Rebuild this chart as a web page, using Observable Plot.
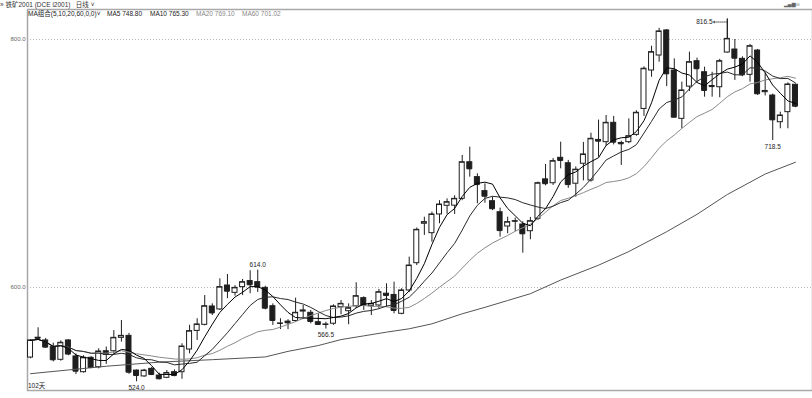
<!DOCTYPE html>
<html><head><meta charset="utf-8">
<script src="https://cdn.jsdelivr.net/npm/d3@7"></script>
<script src="https://cdn.jsdelivr.net/npm/@observablehq/plot@0.6"></script>
<style>
body{margin:0;background:#fff;font-family:"Liberation Sans",Arial,"Noto Sans CJK SC",sans-serif;}
#wrap{position:relative;width:812px;height:398px;overflow:hidden;}
.t{position:absolute;white-space:nowrap;font-size:6.5px;line-height:1;color:#222;}
</style></head><body>
<div id="wrap">
<div id="chart"></div>
<div class="t" style="left:0px;top:2px;color:#333">» 铁矿2001 (DCE i2001)&nbsp;&nbsp; 日线 ˅</div>
<div class="t" style="left:28px;top:10.5px;">MA组合(5,10,20,60,0,0)˅</div>
<div class="t" id="l5" style="left:107px;top:10.5px;"></div>
<div class="t" id="l10" style="left:150px;top:10.5px;"></div>
<div class="t" id="l20" style="left:196px;top:10.5px;color:#888"></div>
<div class="t" id="l60" style="left:242px;top:10.5px;color:#888"></div>
<div class="t" style="left:784px;top:2px;font-size:5px;color:#666;font-family:'DejaVu Sans',sans-serif;">▂▄▆ııı</div>
<div class="t" style="left:28px;top:383px;">102天</div>
</div>
<script>
// Daily OHLC, iron ore 2001 (DCE i2001), 102 sessions
const opens  = [543.5,559.5,557.3,551.9,541.7,557.3,544.4,531.7,543.3,535.7,548.6,548.6,559.4,561,533,528.3,534.4,529,527.2,531.7,
  531.7,550,565,569.9,584.7,582.3,601.6,595.7,600.3,605.2,604.3,599.7,584.9,570.8,572.5,573,580.6,579.6,572,569.9,
  570.8,584.1,580.9,584.9,591.4,584.9,585.5,595,594,578.8,597.6,619.6,651.4,643.8,658.9,665.9,666,671.5,701,689,
  677.7,669.6,660.7,649.2,653.2,650.8,645.4,655.4,687.2,684.1,704.6,700.2,683.7,699.8,686.3,719,717.2,732.8,716.5,717.2,
  723.1,744,775,787.1,807.3,775,736,762,782.5,773.6,762.5,761.5,789.5,791.9,784.4,771.5,791.1,757.5,754.8,733.3,
  741.4,763.5];
const highs  = [558,567.5,558.9,555.1,557,558,546.5,545,544.4,550.6,552,565.3,573.4,563,533.5,534,535.5,531,533,533.5,
  554.6,569.5,574.8,593.5,586.8,607,610.5,601.5,606.5,613.5,614,601,586.8,574.8,574,591.4,585.5,581.5,578.8,572,
  586,589.5,586.8,603.8,592.5,589.5,598.5,603,604.3,599,624.5,648,656.7,660.8,670,671.5,674,706.5,713.2,691.7,
  683.6,673,664,656.7,656,653,656.5,685,699.2,704,717.2,702.5,697.3,717,724.4,735,738.7,738,718,736,
  742.5,778,794.6,809,808,784.4,765.6,789.8,785,777.7,773.6,784,816.5,800,786,796,792,773,756,741.4,
  765,764];
const lows   = [542.5,557.5,551,540,540.6,545,529.8,531,534.5,534.4,538,546.5,556,530,524,527.5,529,525.5,526.5,528,
  526,546.5,557.3,569,577.4,581.5,591,593,593.5,595,596,582,569.4,566.1,566,572,574.8,570.7,569.4,566.5,
  569.5,578,570,583,581.5,577.4,583,584,578.8,578,596,617.7,642,636.5,651.4,659,658.9,670,689,667.5,
  668,662,640.6,643.3,645,627.7,638.5,654,682,682.3,695.7,680,672.8,686,685,705,714,715,698.4,716,
  722,738,769.6,781.7,762,737,728,758,765,753.5,753.5,753,789,767,770,765.6,755,754.5,718.5,728,
  728,745];
const closes = [557.3,559,551.9,541.7,555.4,546.3,532.5,543.3,535.5,548.4,546,559.4,561,531.7,529,533,529.8,526.4,531,529,
  552.4,564.8,570.2,584.9,579.5,600.3,597,599.7,604.3,602.2,600.3,583.3,573.4,571,571.5,579.6,581.5,572.6,570.2,570.2,
  584.7,586.8,583.3,593,585.5,586.8,596.2,593.5,581.5,597.6,617.7,646.5,652.7,658.9,666.9,668.8,671.5,701,695.7,683,
  673.6,663.5,645.9,652.7,653.5,643.3,653.5,684.1,683.7,701.9,702.4,683,695,707.3,719.9,718,732.8,717.2,715.9,722,
  740.9,776.4,789.8,806.5,772.3,737.3,758.9,781.7,776.4,758.9,762,782.5,800.5,784.9,771.5,794.6,756.2,758.5,735.2,738.7,
  763.7,746.2];

const ma60Idx = [0,5,10,17,24,31,34,38,41,44,47,50,53,57,60,63,66,70,75,79,84,88,92,97,101];
const ma60Val = [530.5,533.5,536.5,539.8,541.8,544,548.5,553.2,558,561,564,566.7,570.7,578.8,584,589.5,595,606,618,629,645,659,675,691.5,701];

// legend values
const legendLabels = ["MA5","MA10","MA20","MA60"];
const legendValues = [748.80,765.30,769.10,701.02];

// annotated extremes
const highMarkIdx = [30];
const lowMarkIdx = [14,39,98];
const arrowMarkIdx = [92];

const yTicks = [600,800];

const candles = closes.map((c,i)=>({i, o:opens[i], h:highs[i], l:lows[i], c}));
const ma60 = ma60Idx.map((i,k)=>({i, v:ma60Val[k]}));
const ink = "#1e1e1e";
const font = "'Liberation Sans',Arial,sans-serif";

const chart = Plot.plot({
  width: 812, height: 398,
  marginLeft: 27, marginRight: 0, marginTop: 9, marginBottom: 8,
  x: {domain: [-0.4, 103.25], axis: null},
  y: {domain: [516.94, 824.19], ticks: yTicks, tickFormat: d=>d.toFixed(1), tickSize: 0, tickPadding: 2, label: null},
  style: {fontSize: "6px", fontFamily: font, color: "#666", background: "#fff"},
  marks: [
    Plot.ruleY(yTicks, {stroke: "#b8b8b8", strokeDasharray: "1,2"}),
    Plot.frame({stroke: "#a8a8a8", strokeWidth: 1.5}),
    Plot.ruleX(candles, {x: "i", y1: "l", y2: "h", stroke: ink, strokeWidth: 1}),
    Plot.rect(candles, {x1: d=>d.i-0.33, x2: d=>d.i+0.33, y1: "o", y2: "c",
      fill: d=> d.c>=d.o ? "#fff" : ink, stroke: ink, strokeWidth: 1}),
    Plot.ruleY(candles, {y: "c", x1: d=>d.i-0.33, x2: d=>d.i+0.33, stroke: ink, strokeWidth: 1}),
    Plot.line(ma60, {x: "i", y: "v", stroke: "#555", strokeWidth: 1}),
    Plot.lineY(candles, Plot.windowY({k: 20, anchor: "end", reduce: "mean"}, {x: "i", y: "c", stroke: "#8a8a8a", strokeWidth: 1})),
    Plot.lineY(candles, Plot.windowY({k: 10, anchor: "end", reduce: "mean"}, {x: "i", y: "c", stroke: "#2a2a2a", strokeWidth: 1})),
    Plot.lineY(candles, Plot.windowY({k: 5, anchor: "end", reduce: "mean"}, {x: "i", y: "c", stroke: "#000", strokeWidth: 1})),
    Plot.text(highMarkIdx, {x: i=>i, y: i=>highs[i], text: i=>highs[i].toFixed(1), dy: -5, fontSize: 6.5, fill: "#222", fontFamily: font}),
    Plot.text(lowMarkIdx, {x: i=>i, y: i=>lows[i], text: i=>lows[i].toFixed(1), dy: 6, fontSize: 6.5, fill: "#222", fontFamily: font}),
    Plot.arrow(arrowMarkIdx, {x1: i=>i, y1: i=>highs[i], x2: i=>i-1.85, y2: i=>highs[i], dy: 3, stroke: "#333", strokeWidth: 0.8, strokeDasharray: "1,1", headLength: 3}),
    Plot.ruleX(arrowMarkIdx, {x: i=>i, y1: i=>highs[i], y2: i=>Math.max(opens[i],closes[i]), stroke: ink}),
    Plot.text(arrowMarkIdx, {x: i=>i-1.95, y: i=>highs[i], text: i=>highs[i].toFixed(1), dy: 3, textAnchor: "end", fontSize: 6.5, fill: "#222", fontFamily: font})
  ]
});
document.getElementById("chart").appendChild(chart);
["l5","l10","l20","l60"].forEach((id,k)=>{
  document.getElementById(id).textContent = legendLabels[k] + " " + legendValues[k].toFixed(2);
});
</script>
</body></html>
